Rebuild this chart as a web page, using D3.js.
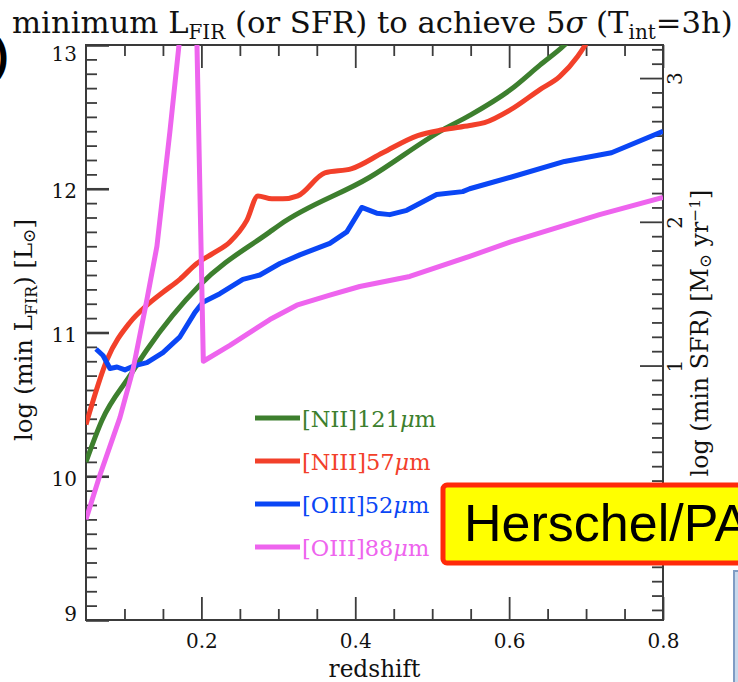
<!DOCTYPE html>
<html>
<head>
<meta charset="utf-8">
<script src="https://cdn.jsdelivr.net/npm/d3@7"></script>
<style>
  body { margin: 0; background: #ffffff; }
  svg { display: block; }
</style>
</head>
<body>
<svg id="chart" width="738" height="682"></svg>
<script>
// Minimum log L_FIR [L_sun] needed for a 5-sigma line detection in 3 h, versus redshift.
const nii121Z = [0.05, 0.0708, 0.1071, 0.1292, 0.198, 0.289, 0.302, 0.4188, 0.5136, 0.5487, 0.602, 0.64, 0.672, 0.69];
const nii121L = [10.10, 10.39, 10.70, 10.88, 11.33, 11.70, 11.75, 12.08, 12.41, 12.51, 12.69, 12.86, 13.0, 13.1];

const niii57Z = [0.05, 0.0773, 0.1071, 0.1292, 0.15, 0.172, 0.194, 0.215, 0.237, 0.259, 0.2734, 0.2916, 0.3058, 0.3253,
                 0.3604, 0.3955, 0.4357, 0.4812, 0.5136, 0.5487, 0.568, 0.602, 0.64, 0.6656, 0.689, 0.699, 0.71];
const niii57L = [10.36, 10.81, 11.07, 11.19, 11.28, 11.37, 11.48, 11.55, 11.63, 11.78, 11.95, 11.93, 11.93, 11.95,
                 12.11, 12.14, 12.25, 12.37, 12.41, 12.44, 12.46, 12.55, 12.69, 12.78, 12.92, 13.0, 13.1];

const oiii52Z = [0.063, 0.0721, 0.0812, 0.0903, 0.1006, 0.1136, 0.1292, 0.15, 0.1721, 0.1916, 0.2019, 0.224, 0.2539,
                 0.276, 0.302, 0.3279, 0.3669, 0.389, 0.4084, 0.4279, 0.4448, 0.4669, 0.5058, 0.5396, 0.5487, 0.602,
                 0.672, 0.733, 0.8];
const oiii52L = [10.885, 10.84, 10.75, 10.76, 10.74, 10.77, 10.79, 10.86, 10.97, 11.14, 11.21, 11.27, 11.37,
                 11.40, 11.48, 11.54, 11.62, 11.70, 11.87, 11.83, 11.82, 11.85, 11.96, 11.98, 12.0, 12.08,
                 12.19, 12.25, 12.40];

const oiii88Z = [0.05, 0.0682, 0.0942, 0.111, 0.1292, 0.1422, 0.1591, 0.1905, 0.2025, 0.237, 0.289, 0.324, 0.3669,
                 0.4058, 0.4708, 0.5487, 0.602, 0.7175, 0.8];
const oiii88L = [9.70, 10.01, 10.41, 10.74, 11.23, 11.60, 12.40, 14.0, 10.80, 10.91, 11.09, 11.19, 11.26,
                 11.32, 11.39, 11.53, 11.63, 11.82, 11.94];

const seriesNames  = ["[NII]121", "[NIII]57", "[OIII]52", "[OIII]88"];
const seriesColors = ["#3d7f2e", "#f2402a", "#0a46f5", "#ee64ee"];

// axis ranges and tick marks
const zRange = [0.05, 0.8];
const logLRange = [9, 13];
const zMajorTicks = [0.2, 0.4, 0.6, 0.8];
const logLMajorTicks = [9, 10, 11, 12, 13];
const sfrMajorTicks = [1, 2, 3];
const sfrOffset = 9.77;   // log SFR = log L_FIR - 9.77

const svg = d3.select("#chart");
const plot = { left: 86, right: 663, top: 45, bottom: 620 };

const x = d3.scaleLinear().domain(zRange).range([plot.left, plot.right]);
const y = d3.scaleLinear().domain(logLRange).range([plot.bottom, plot.top]);
const ySfr = d3.scaleLinear()
  .domain([logLRange[0] - sfrOffset, logLRange[1] - sfrOffset])
  .range([plot.bottom, plot.top]);

const serif = "'DejaVu Serif', 'Liberation Serif', serif";
const tickColor = "#3c3c3c";

// minor tick positions
const zMinorTicks = d3.range(0.1, 0.8, 0.05).map(v => +v.toFixed(2)).filter(v => !zMajorTicks.includes(v));
const logLMinorTicks = d3.range(9.1, 13, 0.1).map(v => +v.toFixed(1)).filter(v => !logLMajorTicks.includes(v));
const sfrMinorTicks = d3.range(-7, 33).map(v => v / 10).filter(v => !sfrMajorTicks.includes(v));

function styleAxis(g) {
  g.select(".domain").remove();
  g.selectAll(".tick line").attr("stroke", tickColor).attr("stroke-width", 1.8);
  g.selectAll(".tick text").attr("fill", "#111").attr("font-family", serif).attr("font-size", 20);
}

// bottom axis
svg.append("g").attr("transform", `translate(0,${plot.bottom})`)
  .call(d3.axisBottom(x).tickValues(zMinorTicks).tickSizeInner(-11).tickSizeOuter(0).tickFormat(""))
  .call(styleAxis);
svg.append("g").attr("transform", `translate(0,${plot.bottom})`)
  .call(d3.axisBottom(x).tickValues(zMajorTicks).tickSizeInner(-23).tickSizeOuter(0)
        .tickPadding(14).tickFormat(d3.format(".1f")))
  .call(styleAxis);

// top axis
svg.append("g").attr("transform", `translate(0,${plot.top})`)
  .call(d3.axisTop(x).tickValues(zMinorTicks).tickSizeInner(-11).tickSizeOuter(0).tickFormat(""))
  .call(styleAxis);
svg.append("g").attr("transform", `translate(0,${plot.top})`)
  .call(d3.axisTop(x).tickValues(zMajorTicks).tickSizeInner(-23).tickSizeOuter(0).tickFormat(""))
  .call(styleAxis);

// left axis
svg.append("g").attr("transform", `translate(${plot.left},0)`)
  .call(d3.axisLeft(y).tickValues(logLMinorTicks).tickSizeInner(-11).tickSizeOuter(0).tickFormat(""))
  .call(styleAxis);
const leftMajor = svg.append("g").attr("transform", `translate(${plot.left},0)`)
  .call(d3.axisLeft(y).tickValues(logLMajorTicks).tickSizeInner(-23).tickSizeOuter(0)
        .tickPadding(9).tickFormat(d3.format("d")))
  .call(styleAxis);
leftMajor.selectAll(".tick line").attr("stroke-width", 2.6);
leftMajor.selectAll(".tick text").attr("dy", d => d === 13 ? "0.78em" : d === 9 ? "0.0em" : "0.45em");

// right axis (log SFR)
svg.append("g").attr("transform", `translate(${plot.right},0)`)
  .call(d3.axisRight(ySfr).tickValues(sfrMinorTicks).tickSizeInner(-11).tickSizeOuter(0).tickFormat(""))
  .call(styleAxis);
const rightMajor = svg.append("g").attr("transform", `translate(${plot.right},0)`)
  .call(d3.axisRight(ySfr).tickValues(sfrMajorTicks).tickSizeInner(-23).tickSizeOuter(0).tickFormat(d3.format("d")))
  .call(styleAxis);
rightMajor.selectAll(".tick text")
  .attr("x", null).attr("dy", null)
  .attr("text-anchor", "middle")
  .attr("transform", "translate(19,0) rotate(-90)");

// frame
svg.append("rect")
  .attr("x", plot.left).attr("y", plot.top)
  .attr("width", plot.right - plot.left).attr("height", plot.bottom - plot.top)
  .attr("fill", "none").attr("stroke", "#3a3a3a").attr("stroke-width", 2);

// curves
svg.append("clipPath").attr("id", "plot-clip")
  .append("rect")
  .attr("x", plot.left).attr("y", plot.top)
  .attr("width", plot.right - plot.left).attr("height", plot.bottom - plot.top);

const series = [
  { z: nii121Z, l: nii121L, curve: d3.curveMonotoneX },
  { z: niii57Z, l: niii57L, curve: d3.curveMonotoneX },
  { z: oiii52Z, l: oiii52L, curve: d3.curveLinear },
  { z: oiii88Z, l: oiii88L, curve: d3.curveLinear }
];

const curves = svg.append("g").attr("clip-path", "url(#plot-clip)");
series.forEach((s, i) => {
  const pts = s.z.map((z, k) => [z, s.l[k]]);
  curves.append("path")
    .attr("d", d3.line().x(d => x(d[0])).y(d => y(d[1])).curve(s.curve)(pts))
    .attr("fill", "none")
    .attr("stroke", seriesColors[i])
    .attr("stroke-width", 5)
    .attr("stroke-linejoin", "round");
});

// legend
const legend = svg.append("g");
seriesNames.forEach((name, i) => {
  const ly = 418 + i * 43;
  legend.append("line")
    .attr("x1", 255).attr("x2", 300).attr("y1", ly).attr("y2", ly)
    .attr("stroke", seriesColors[i]).attr("stroke-width", 5);
  const t = legend.append("text")
    .attr("x", 302).attr("y", ly + 9)
    .attr("font-family", serif).attr("font-size", 22.5)
    .attr("fill", seriesColors[i]);
  t.append("tspan").text(name);
  t.append("tspan").attr("font-style", "italic").text("\u03bc");
  t.append("tspan").text("m");
});

// text helpers
function fitText(sel, target) {
  const len = sel.node().getComputedTextLength();
  const fs = parseFloat(sel.attr("font-size"));
  sel.attr("font-size", fs * target / len);
}

// title
const title = svg.append("text")
  .attr("x", 12).attr("y", 33)
  .attr("font-family", serif).attr("font-size", 24).attr("fill", "#111");
title.append("tspan").text("minimum L");
title.append("tspan").attr("font-size", "0.65em").attr("dy", "0.3em").text("FIR");
title.append("tspan").attr("dy", "-0.195em").text(" (or SFR) to achieve 5");
title.append("tspan").attr("font-style", "italic").text("\u03c3");
title.append("tspan").text(" (T");
title.append("tspan").attr("font-size", "0.65em").attr("dy", "0.3em").text("int");
title.append("tspan").attr("dy", "-0.195em").text("=3h)");
fitText(title, 721);

// x axis title
const xTitle = svg.append("text")
  .attr("x", (plot.left + plot.right) / 2).attr("y", 677)
  .attr("text-anchor", "middle")
  .attr("font-family", serif).attr("font-size", 20).attr("fill", "#111")
  .text("redshift");
fitText(xTitle, 92);

// left axis title
const yTitle = svg.append("text")
  .attr("transform", "translate(32,330) rotate(-90)")
  .attr("text-anchor", "middle")
  .attr("font-family", serif).attr("font-size", 19).attr("fill", "#111");
yTitle.append("tspan").text("log (min L");
yTitle.append("tspan").attr("font-size", "0.65em").attr("dy", "0.3em").text("FIR");
yTitle.append("tspan").attr("dy", "-0.195em").text(") [L");
yTitle.append("tspan").attr("font-size", "0.7em").attr("dy", "0.2em").text("\u2299");
yTitle.append("tspan").attr("dy", "-0.14em").text("]");
fitText(yTitle, 222);

// right axis title
const sfrTitle = svg.append("text")
  .attr("transform", "translate(708,333) rotate(-90)")
  .attr("text-anchor", "middle")
  .attr("font-family", serif).attr("font-size", 19).attr("fill", "#111");
sfrTitle.append("tspan").text("log (min SFR) [M");
sfrTitle.append("tspan").attr("font-size", "0.7em").attr("dy", "0.2em").text("\u2299");
sfrTitle.append("tspan").attr("dy", "-0.14em").text(" yr");
sfrTitle.append("tspan").attr("font-size", "0.65em").attr("dy", "-0.55em").text("\u22121");
sfrTitle.append("tspan").attr("dy", "0.36em").text("]");
fitText(sfrTitle, 287);

// panel marker at the left edge
svg.append("text")
  .attr("x", -6).attr("y", 70)
  .attr("font-family", "'Liberation Sans', Arial, sans-serif")
  .attr("font-weight", "bold").attr("font-size", 44).attr("fill", "#000")
  .text(")");

// instrument banner
svg.append("rect")
  .attr("x", 443).attr("y", 485).attr("width", 320).attr("height", 78).attr("rx", 4)
  .attr("fill", "#ffff00").attr("stroke", "#ff2a0a").attr("stroke-width", 5);
svg.append("text")
  .attr("x", 464).attr("y", 541)
  .attr("font-family", "'Liberation Sans', Arial, sans-serif")
  .attr("font-size", 52).attr("fill", "#000")
  .text("Herschel/PACS");

// neighbouring panel edge
svg.append("rect")
  .attr("x", 734).attr("y", 571).attr("width", 20).attr("height", 120)
  .attr("fill", "#c8d9ec").attr("stroke", "#7f9cc4").attr("stroke-width", 2);
</script>
</body>
</html>
